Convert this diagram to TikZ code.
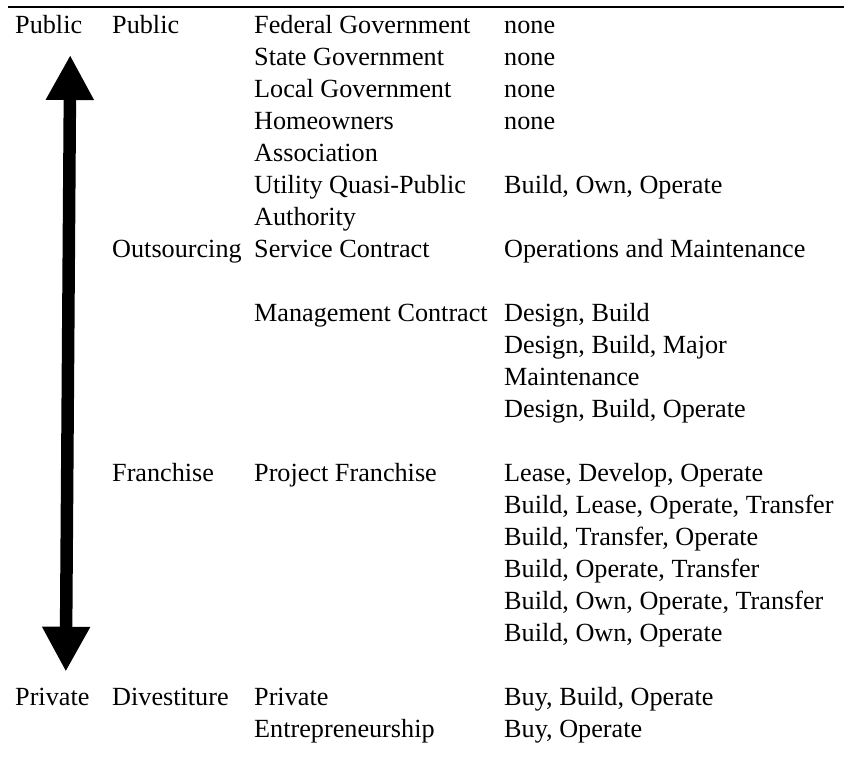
\documentclass[tikz,border=0pt]{standalone}
\usepackage{fontspec}
\setmainfont{Liberation Serif}
\usetikzlibrary{arrows.meta}
\tikzset{
  cell/.style={anchor=base west, inner sep=0pt, font=\fontsize{26.2}{32}\selectfont},
  bigarrow/.style={line width=12.5pt, {Triangle[length=45pt,width=45pt]}-{Triangle[length=45pt,width=45pt]}}
}
\def\rowy#1{-33-32*#1}
\begin{document}
\begin{tikzpicture}[x=1pt,y=1pt]
\useasboundingbox (0,0) rectangle (844,-774);
\def\CA{15};\def\CB{112};\def\CC{254};\def\CD{504};
% top rule
\coordinate (ruleL) at (8,-7);
\coordinate (ruleR) at (844,-7);
\draw[line width=2pt] (ruleL)--(ruleR);
% public <-> private
\coordinate (arrtop) at (70.2,-55);
\coordinate (arrbot) at (65.8,-671.7);
\draw[bigarrow] (arrtop)--(arrbot);
% first column
\node[cell] (pub) at (\CA,{\rowy{0}}) {Public};
\node[cell] (priv) at (\CA,{\rowy{21}}) {Private};
% second column
\node[cell] (grpPublic) at (\CB,{\rowy{0}}) {Public};
\node[cell] (grpOut) at (\CB,{\rowy{7}}) {Outsourcing};
\node[cell] (grpFran) at (\CB,{\rowy{14}}) {Franchise};
\node[cell] (grpDiv) at (\CB,{\rowy{21}}) {Divestiture};
% third column
\node[cell] (federal) at (\CC,{\rowy{0}}) {Federal Government};
\node[cell] (state) at (\CC,{\rowy{1}}) {State Government};
\node[cell] (local) at (\CC,{\rowy{2}}) {Local Government};
\node[cell] (hoa) at (\CC,{\rowy{3}}) {Homeowners};
\node[cell] (hoaB) at (\CC,{\rowy{4}}) {Association};
\node[cell] (utility) at (\CC,{\rowy{5}}) {Utility Quasi-Public};
\node[cell] (utilityB) at (\CC,{\rowy{6}}) {Authority};
\node[cell] (service) at (\CC,{\rowy{7}}) {Service Contract};
\node[cell] (mgmt) at (\CC,{\rowy{9}}) {Management Contract};
\node[cell] (project) at (\CC,{\rowy{14}}) {Project Franchise};
\node[cell] (entre) at (\CC,{\rowy{21}}) {Private};
\node[cell] (entreB) at (\CC,{\rowy{22}}) {Entrepreneurship};
% fourth column
\foreach \r in {0,...,3}{
  \node[cell] (none\r) at (\CD,{\rowy{\r}}) {none};
}
\node[cell] (boo1) at (\CD,{\rowy{5}}) {Build, Own, Operate};
\node[cell] (om) at (\CD,{\rowy{7}}) {Operations and Maintenance};
\node[cell] (db) at (\CD,{\rowy{9}}) {Design, Build};
\node[cell] (dbm) at (\CD,{\rowy{10}}) {Design, Build, Major};
\node[cell] (dbmB) at (\CD,{\rowy{11}}) {Maintenance};
\node[cell] (dbo) at (\CD,{\rowy{12}}) {Design, Build, Operate};
\node[cell] (ldo) at (\CD,{\rowy{14}}) {Lease, Develop, Operate};
\node[cell] (blot) at (\CD,{\rowy{15}}) {Build, Lease, Operate, Transfer};
\node[cell] (bto) at (\CD,{\rowy{16}}) {Build, Transfer, Operate};
\node[cell] (bot) at (\CD,{\rowy{17}}) {Build, Operate, Transfer};
\node[cell] (boot) at (\CD,{\rowy{18}}) {Build, Own, Operate, Transfer};
\node[cell] (boo2) at (\CD,{\rowy{19}}) {Build, Own, Operate};
\node[cell] (bbo) at (\CD,{\rowy{21}}) {Buy, Build, Operate};
\node[cell] (bo) at (\CD,{\rowy{22}}) {Buy, Operate};
\end{tikzpicture}
\end{document}
